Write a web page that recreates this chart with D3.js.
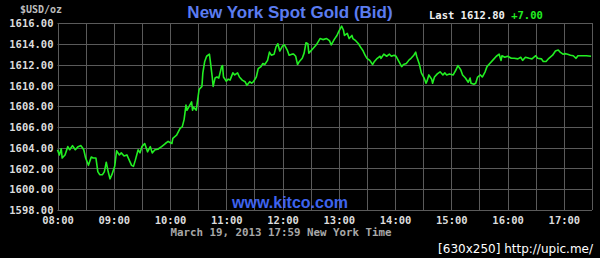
<!DOCTYPE html>
<html>
<head>
<style>
  body { margin: 0; background: #000; }
  svg { display: block; }
</style>
</head>
<body>
<div id="viz"></div>
<script src="https://d3js.org/d3.v7.min.js"></script>
<script>
  // price samples (New York time, $/oz)
  const times = [
    "08:00","08:02","08:04","08:05","08:08","08:11","08:13","08:16","08:19","08:22","08:25","08:28",
    "08:30","08:33","08:36","08:38","08:41","08:43","08:45","08:48","08:50","08:52","08:54","08:56",
    "08:58","09:01","09:03","09:06","09:08","09:11","09:14","09:16","09:19","09:21","09:23","09:26",
    "09:28","09:30","09:33","09:36","09:39","09:41","09:44","09:47","09:51","09:55","09:58","10:02",
    "10:03","10:07","10:11","10:13","10:15","10:17","10:18","10:20","10:23","10:24","10:25","10:28",
    "10:29","10:31","10:34","10:35","10:37","10:39","10:42","10:43","10:45","10:46","10:48","10:50",
    "10:52","10:55","10:56","10:57","11:00","11:02","11:04","11:07","11:09","11:12","11:14","11:17",
    "11:20","11:22","11:25","11:27","11:29","11:32","11:34","11:37","11:39","11:41","11:44","11:46",
    "11:48","11:51","11:53","11:55","11:57","12:00","12:02","12:05","12:07","12:10","12:12","12:14",
    "12:16","12:18","12:21","12:23","12:25","12:27","12:28","12:33","12:36","12:40","12:43","12:47",
    "12:50","12:52","12:55","12:58","13:00","13:03","13:05","13:06","13:09","13:11","13:14","13:15",
    "13:18","13:21","13:23","13:26","13:28","13:30","13:33","13:36","13:38","13:41","13:44","13:45",
    "13:48","13:51","13:54","13:56","13:59","14:01","14:04","14:07","14:09","14:12","14:15","14:17",
    "14:20","14:22","14:23","14:26","14:28","14:31","14:33","14:34","14:36","14:39","14:40","14:42",
    "14:45","14:48","14:51","14:53","14:55","14:58","15:02","15:05","15:07","15:10","15:12","15:15",
    "15:18","15:20","15:21","15:24","15:26","15:28","15:31","15:33","15:36","15:38","15:41","15:44",
    "15:48","15:51","15:53","15:54","15:57","16:00","16:04","16:07","16:11","16:14","16:16","16:19",
    "16:23","16:26","16:30","16:32","16:36","16:38","16:41","16:44","16:48","16:51","16:54","16:56",
    "16:59","17:02","17:04","17:07","17:10","17:13","17:15","17:19","17:24","17:29"
  ];
  const prices = [
    1603.8,1603.3,1603.9,1603.0,1603.3,1604.1,1603.8,1604.2,1603.8,1604.1,1604.2,1603.8,
    1603.0,1602.3,1603.1,1603.0,1603.0,1601.7,1601.4,1601.4,1601.7,1602.6,1601.7,1601.0,
    1601.4,1602.2,1603.7,1603.3,1603.5,1603.2,1603.3,1602.9,1602.3,1602.2,1602.8,1603.8,
    1603.5,1604.1,1604.4,1603.6,1604.1,1603.5,1603.8,1603.85,1604.1,1604.4,1604.6,1604.4,
    1604.9,1605.2,1605.9,1606.0,1606.7,1608.1,1607.6,1607.9,1608.4,1607.6,1607.9,1607.6,
    1608.3,1609.6,1609.9,1611.2,1612.3,1612.8,1613.0,1612.3,1610.8,1609.9,1610.7,1610.8,
    1610.7,1611.8,1611.9,1610.8,1610.4,1610.6,1610.5,1611.2,1611.0,1611.2,1610.8,1610.5,
    1610.35,1610.0,1610.35,1610.2,1610.35,1610.8,1611.6,1611.8,1612.1,1612.0,1612.4,1613.2,
    1612.9,1613.0,1613.7,1614.0,1613.3,1613.8,1613.9,1613.4,1612.9,1613.0,1613.0,1612.8,
    1612.0,1612.3,1612.6,1613.1,1614.1,1614.0,1613.1,1613.6,1613.9,1614.5,1614.4,1614.5,
    1614.3,1613.9,1614.4,1614.8,1615.2,1615.7,1615.3,1614.8,1615.0,1614.5,1614.8,1614.5,
    1614.3,1614.0,1613.7,1613.3,1612.9,1612.6,1612.4,1612.0,1612.3,1612.6,1612.8,1612.6,
    1613.0,1612.8,1613.0,1612.8,1612.9,1612.8,1612.3,1611.8,1612.0,1612.1,1612.45,1612.6,
    1612.9,1613.2,1612.8,1612.0,1611.2,1610.7,1610.2,1610.4,1611.0,1610.6,1610.2,1610.8,
    1611.1,1611.3,1611.0,1611.2,1611.0,1611.1,1611.0,1611.5,1611.9,1611.5,1611.0,1610.7,
    1610.3,1610.7,1610.2,1610.1,1610.2,1610.8,1611.0,1610.8,1611.3,1611.8,1612.1,1612.4,
    1612.8,1613.0,1612.4,1612.85,1612.7,1612.8,1612.6,1612.6,1612.55,1612.7,1612.4,1612.7,
    1612.6,1612.55,1612.85,1612.6,1612.55,1612.3,1612.3,1612.6,1612.9,1613.3,1613.4,1613.2,
    1613.0,1613.05,1613.0,1612.9,1612.85,1612.6,1612.85,1612.85,1612.85,1612.8
  ];
  const yTicks = [1598, 1600, 1602, 1604, 1606, 1608, 1610, 1612, 1614, 1616];
  const hourTicks = ["08:00","09:00","10:00","11:00","12:00","13:00","14:00","15:00","16:00","17:00"];
  const timeStart = "08:00", timeEnd = "17:30";
  const lastPrice = "1612.80", change = "+7.00";

  const width = 600, height = 258;
  const margin = {top: 23, right: 8, bottom: 48, left: 57.5};

  const parse = d3.timeParse("%H:%M");
  const data = times.map((t, i) => ({t: parse(t), v: prices[i]}));

  const svg = d3.select("#viz").append("svg")
      .attr("width", width)
      .attr("height", height);

  svg.append("rect")
      .attr("width", width)
      .attr("height", height)
      .attr("fill", "#000");

  const x = d3.scaleTime()
      .domain([parse(timeStart), parse(timeEnd)])
      .range([margin.left, width - margin.right]);

  const y = d3.scaleLinear()
      .domain([1598, 1616])
      .range([height - margin.bottom, margin.top]);

  // half-hour vertical grid
  const gridTimes = d3.timeMinute.every(30).range(parse(timeStart), d3.timeMinute.offset(parse(timeEnd), 1));

  svg.append("g")
    .selectAll("line")
      .data(gridTimes)
    .join("line")
      .attr("x1", d => Math.round(x(d)) + 0.5)
      .attr("x2", d => Math.round(x(d)) + 0.5)
      .attr("y1", y(1616))
      .attr("y2", y(1598))
      .attr("stroke", "#5a5a5a");

  svg.append("g")
    .selectAll("line")
      .data(yTicks)
    .join("line")
      .attr("x1", x.range()[0])
      .attr("x2", x.range()[1])
      .attr("y1", d => Math.round(y(d)) + 0.5)
      .attr("y2", d => Math.round(y(d)) + 0.5)
      .attr("stroke", "#5a5a5a");

  // y tick labels
  const yAxis = svg.append("g")
      .attr("transform", `translate(${margin.left - 4},0)`)
      .call(d3.axisLeft(y).tickValues(yTicks).tickFormat(d3.format(".2f")).tickSize(0).tickPadding(0));
  yAxis.select(".domain").remove();
  yAxis.selectAll("text")
      .attr("fill", "#dcdcdc")
      .attr("font-family", "DejaVu Sans Mono")
      .attr("font-weight", "bold")
      .attr("font-size", 10.5)
      .attr("dy", "0.35em");

  // x tick labels
  const xAxis = svg.append("g")
      .attr("transform", `translate(0,${height - margin.bottom + 7})`)
      .call(d3.axisBottom(x).tickValues(hourTicks.map(parse)).tickFormat(d3.timeFormat("%H:%M")).tickSize(0).tickPadding(0));
  xAxis.select(".domain").remove();
  xAxis.selectAll("text")
      .attr("fill", "#dcdcdc")
      .attr("font-family", "DejaVu Sans Mono")
      .attr("font-weight", "bold")
      .attr("font-size", 10.5)
      .attr("dy", "0.71em");

  // price line
  const line = d3.line()
      .x(d => x(d.t))
      .y(d => y(d.v));

  svg.append("path")
      .datum(data)
      .attr("fill", "none")
      .attr("stroke", "#22ee22")
      .attr("stroke-width", 1.6)
      .attr("stroke-linejoin", "round")
      .attr("d", line);

  // texts
  svg.append("text")
      .attr("x", 20)
      .attr("y", 13)
      .attr("fill", "#bdbdbd")
      .attr("font-family", "DejaVu Sans Mono")
      .attr("font-weight", "bold")
      .attr("font-size", 10)
      .text("$USD/oz");

  svg.append("text")
      .attr("x", 290)
      .attr("y", 18)
      .attr("text-anchor", "middle")
      .attr("fill", "#5b7cf0")
      .attr("font-family", "Liberation Sans, Arial")
      .attr("font-weight", "bold")
      .attr("font-size", 17)
      .text("New York Spot Gold (Bid)");

  const last = svg.append("text")
      .attr("x", 429)
      .attr("y", 19)
      .attr("font-family", "DejaVu Sans Mono")
      .attr("font-weight", "bold")
      .attr("font-size", 10.5)
      .attr("fill", "#f0f0f0");
  last.append("tspan").text("Last " + lastPrice + " ");
  last.append("tspan").attr("fill", "#22ee22").text(change);

  svg.append("text")
      .attr("x", 290)
      .attr("y", 208)
      .attr("text-anchor", "middle")
      .attr("fill", "#3d63ee")
      .attr("font-family", "Liberation Sans, Arial")
      .attr("font-weight", "bold")
      .attr("font-size", 16)
      .text("www.kitco.com");

  svg.append("text")
      .attr("x", 281)
      .attr("y", 236)
      .attr("text-anchor", "middle")
      .attr("fill", "#a8a8a8")
      .attr("font-family", "DejaVu Sans Mono")
      .attr("font-weight", "bold")
      .attr("font-size", 10.8)
      .text("March 19, 2013 17:59 New York Time");

  svg.append("text")
      .attr("x", 593)
      .attr("y", 253)
      .attr("text-anchor", "end")
      .attr("fill", "#ffffff")
      .attr("font-family", "DejaVu Sans")
      .attr("font-size", 12)
      .text("[630x250] http://upic.me/");
</script>
</body>
</html>
